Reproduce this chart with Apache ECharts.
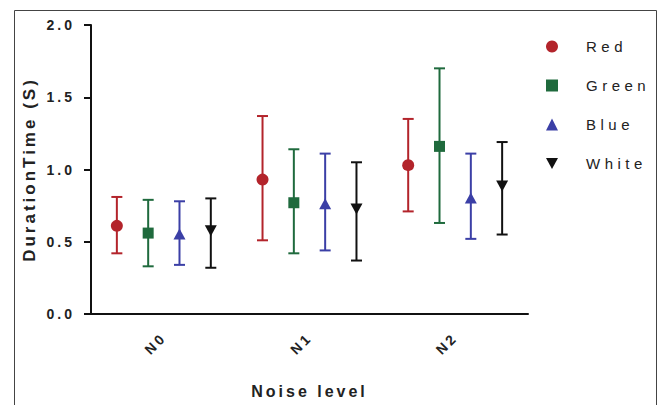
<!DOCTYPE html>
<html>
<head>
<meta charset="utf-8">
<script src="https://cdn.jsdelivr.net/npm/echarts@6/dist/echarts.min.js"></script>
<style>
  html, body { margin: 0; padding: 0; background: #fff; }
  #chart { width: 662px; height: 405px; }
  /* 原图的文字字距很宽 */
  #chart text { letter-spacing: 3px; }
</style>
</head>
<body>
<div id="chart"></div>
<script>
// 噪声等级
var levels = ['N0', 'N1', 'N2'];
var groupNames = ['Red', 'Green', 'Blue', 'White'];
var groupColors = ['#b3242b', '#1f6a3d', '#3b3fa6', '#111111'];
var groupShapes = ['circle', 'rect', 'triangle', 'down'];

// mean / low / high per level
var redMean = [0.61, 0.93, 1.03];
var redLow = [0.42, 0.51, 0.71];
var redHigh = [0.81, 1.37, 1.35];

var greenMean = [0.56, 0.77, 1.16];
var greenLow = [0.33, 0.42, 0.63];
var greenHigh = [0.79, 1.14, 1.70];

var blueMean = [0.55, 0.76, 0.80];
var blueLow = [0.34, 0.44, 0.52];
var blueHigh = [0.78, 1.11, 1.11];

var whiteMean = [0.58, 0.73, 0.89];
var whiteLow = [0.32, 0.37, 0.55];
var whiteHigh = [0.80, 1.05, 1.19];

var allMean = [redMean, greenMean, blueMean, whiteMean];
var allLow = [redLow, greenLow, blueLow, whiteLow];
var allHigh = [redHigh, greenHigh, blueHigh, whiteHigh];

function marker(shape, cx, cy, c) {
  if (shape === 'circle') {
    return { type: 'circle', shape: { cx: cx, cy: cy, r: 6 }, style: { fill: c } };
  }
  if (shape === 'rect') {
    return { type: 'rect', shape: { x: cx - 5.5, y: cy - 5.5, width: 11, height: 11 }, style: { fill: c } };
  }
  if (shape === 'triangle') {
    return { type: 'polygon', shape: { points: [[cx, cy - 6], [cx + 6, cy + 5], [cx - 6, cy + 5]] }, style: { fill: c } };
  }
  return { type: 'polygon', shape: { points: [[cx - 6, cy - 5], [cx + 6, cy - 5], [cx, cy + 6]] }, style: { fill: c } };
}

var myChart = echarts.init(document.getElementById('chart'), null, { renderer: 'svg' });

var series = groupNames.map(function (name, gi) {
  var data = levels.map(function (lv, i) {
    return [i, allMean[gi][i], allLow[gi][i], allHigh[gi][i]];
  });
  return {
    name: name,
    type: 'custom',
    itemStyle: { color: groupColors[gi] },
    data: data,
    renderItem: function (params, api) {
      var p = api.coord([api.value(0), api.value(1)]);
      var band = api.size([1, 0])[0];
      var cx = p[0] + (params.seriesIndex - 1.5) * band * 0.215;
      var lo = api.coord([api.value(0), api.value(2)])[1];
      var hi = api.coord([api.value(0), api.value(3)])[1];
      var c = groupColors[params.seriesIndex];
      var ls = { stroke: c, lineWidth: 2 };
      return {
        type: 'group',
        children: [
          { type: 'line', shape: { x1: cx, y1: lo, x2: cx, y2: hi }, style: ls },
          { type: 'line', shape: { x1: cx - 5.5, y1: lo, x2: cx + 5.5, y2: lo }, style: ls },
          { type: 'line', shape: { x1: cx - 5.5, y1: hi, x2: cx + 5.5, y2: hi }, style: ls },
          marker(groupShapes[params.seriesIndex], cx, p[1], c)
        ]
      };
    }
  };
});

myChart.setOption({
  animation: false,
  textStyle: { fontFamily: 'Liberation Sans, Arial, sans-serif' },
  graphic: [
    {
      type: 'rect',
      shape: { x: 14.5, y: 10.5, width: 642, height: 400 },
      style: { fill: 'none', stroke: '#444', lineWidth: 1 }
    }
  ],
  legend: {
    orient: 'vertical',
    left: 541,
    top: 34,
    itemWidth: 12,
    itemHeight: 12,
    itemGap: 24,
    textStyle: { fontSize: 15, color: '#222', padding: [0, 0, 0, 23] },
    data: [
      { name: 'Red', icon: 'circle' },
      { name: 'Green', icon: 'rect' },
      { name: 'Blue', icon: 'triangle' },
      { name: 'White', icon: 'path://M0,0L12,0L6,11Z' }
    ]
  },
  grid: { left: 91, top: 25, right: 134, bottom: 91 },
  xAxis: {
    type: 'category',
    data: levels,
    boundaryGap: true,
    name: 'Noise level',
    nameLocation: 'middle',
    nameGap: 69,
    nameTextStyle: { fontSize: 16, fontWeight: 'bold', color: '#222' },
    axisLine: { lineStyle: { color: '#111', width: 2 } },
    axisTick: { alignWithLabel: true, length: 6, lineStyle: { color: '#111', width: 2 } },
    axisLabel: { rotate: 45, fontSize: 14, fontWeight: 'bold', color: '#222', margin: 21 }
  },
  yAxis: {
    type: 'value',
    min: 0,
    max: 2,
    interval: 0.5,
    name: 'DurationTime (S)',
    nameLocation: 'middle',
    nameGap: 53,
    nameTextStyle: { fontSize: 17, fontWeight: 'bold', color: '#222' },
    axisLine: { show: true, lineStyle: { color: '#111', width: 2 } },
    axisTick: { show: true, length: 7, lineStyle: { color: '#111', width: 2 } },
    splitLine: { show: false },
    axisLabel: {
      fontSize: 14, fontWeight: 'bold', color: '#222', margin: 16,
      formatter: function (v) { return v.toFixed(1); }
    }
  },
  series: series
});

// 图例文字字距更大一些
function spaceLegend() {
  var texts = document.querySelectorAll('#chart text');
  texts.forEach(function (t) {
    if (groupNames.indexOf(t.textContent) >= 0) {
      t.style.letterSpacing = '4.5px';
    }
  });
}
spaceLegend();
myChart.on('finished', spaceLegend);
</script>
</body>
</html>
